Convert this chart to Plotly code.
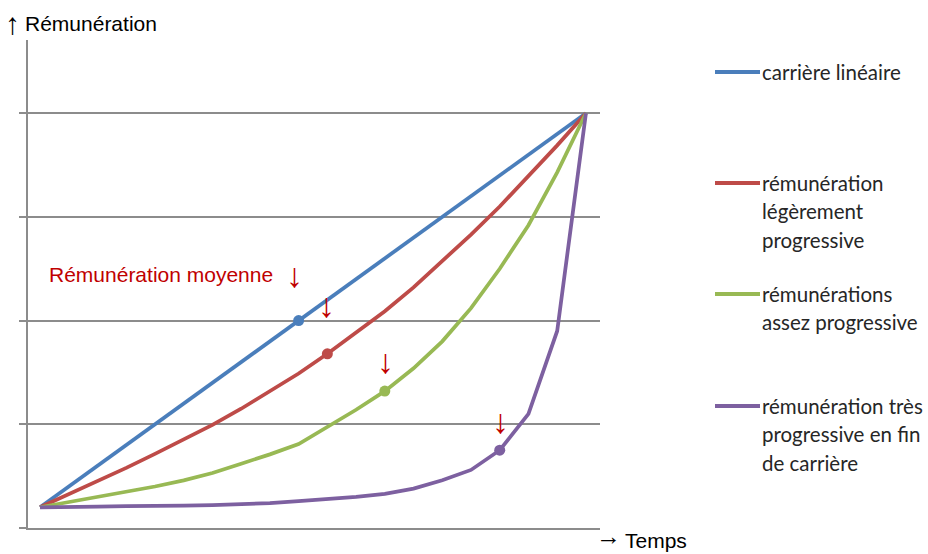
import plotly.graph_objects as go

# Time steps along the career (category positions)
steps = list(range(20))

# Pay level for each profile at each step
lineaire = [0.20, 0.40, 0.60, 0.80, 1.00, 1.20, 1.40, 1.60, 1.80, 2.00,
            2.20, 2.40, 2.60, 2.80, 3.00, 3.20, 3.40, 3.60, 3.80, 4.00]
legere = [0.20, 0.325, 0.45, 0.58, 0.715, 0.855, 0.995, 1.15, 1.315, 1.49,
          1.68, 1.88, 2.09, 2.32, 2.57, 2.83, 3.10, 3.39, 3.69, 4.00]
assez = [0.20, 0.25, 0.30, 0.345, 0.40, 0.46, 0.53, 0.62, 0.71, 0.81,
         0.97, 1.14, 1.32, 1.54, 1.80, 2.12, 2.50, 2.92, 3.43, 4.00]
tres = [0.20, 0.20, 0.205, 0.21, 0.21, 0.215, 0.22, 0.23, 0.24, 0.26,
        0.28, 0.30, 0.33, 0.38, 0.46, 0.56, 0.75, 1.10, 1.90, 4.00]

# Step at which each profile reaches its average pay
moyenne_idx = [9, 10, 12, 16]

series_values = [lineaire, legere, assez, tres]
series_labels = [
    ["carrière linéaire"],
    ["rémunération", "légèrement", "progressive"],
    ["rémunérations", "assez progressive"],
    ["rémunération très", "progressive en fin", "de carrière"],
]
colors = ["#4A7EBB", "#BE4B48", "#98B954", "#7D60A0"]

W, H = 928, 554
L, R, T, B = 28, 600, 40, 528  # plot area in pixels


def px_x(p):
    return (p - L) / (R - L)


def px_y(p):
    return (B - p) / (B - T)


fig = go.Figure()

for vals, col in zip(series_values, colors):
    fig.add_trace(go.Scatter(x=steps, y=vals, mode="lines",
                             line=dict(color=col, width=3.75),
                             hoverinfo="skip", showlegend=False))

# Average-pay markers
for vals, col, k in zip(series_values, colors, moyenne_idx):
    fig.add_trace(go.Scatter(x=[steps[k]], y=[vals[k]], mode="markers",
                             marker=dict(color=col, size=11),
                             hoverinfo="skip", showlegend=False))

red = "#C00000"
sans = "Liberation Sans, Arial"
annotations = []

# Down arrows above each average-pay marker
arrow_shift = [(-4, 46), (-1, 49), (1, 30), (1, 29)]
for vals, k, (dx, dy) in zip(series_values, moyenne_idx, arrow_shift):
    annotations.append(dict(x=steps[k], y=vals[k], xref="x", yref="y",
                            text="↓", showarrow=False, xshift=dx, yshift=dy,
                            font=dict(family=sans, size=34, color=red)))

annotations.append(dict(x=px_x(47), y=px_y(274), xref="paper", yref="paper",
                        text="Rémunération moyenne", showarrow=False,
                        xanchor="left", yanchor="middle",
                        font=dict(family=sans, size=21, color=red)))


def axis_label(arrow, arrow_x, arrow_y, arrow_size, text, text_x, text_y):
    annotations.append(dict(x=px_x(arrow_x), y=px_y(arrow_y), xref="paper",
                            yref="paper", text=arrow, showarrow=False,
                            xanchor="center", yanchor="middle",
                            font=dict(family=sans, size=arrow_size, color="#000000")))
    annotations.append(dict(x=px_x(text_x), y=px_y(text_y), xref="paper",
                            yref="paper", text=text, showarrow=False,
                            xanchor="left", yanchor="middle",
                            font=dict(family=sans, size=21, color="#000000")))


# Axis titles
axis_label("↑", 12.5, 24, 30, "Rémunération", 23, 24)
axis_label("→", 608, 536, 25, "Temps", 623, 540)

# Legend drawn as line samples and text rows
shapes = []
entry_top = [72, 183, 294, 406]
row_gap = 28.3
for lines, col, top in zip(series_labels, colors, entry_top):
    shapes.append(dict(type="line", xref="paper", yref="paper",
                       x0=px_x(715), x1=px_x(760), y0=px_y(top), y1=px_y(top),
                       line=dict(color=col, width=4)))
    for j, txt in enumerate(lines):
        annotations.append(dict(x=px_x(760), y=px_y(top + j * row_gap),
                                xref="paper", yref="paper", text=txt,
                                showarrow=False, xanchor="left", yanchor="middle",
                                font=dict(family="Lato", size=20.5, color="#262626")))

grey = "#8C8C8C"
fig.update_layout(
    width=W, height=H,
    margin=dict(l=L, r=W - R, t=T, b=H - B, pad=0),
    paper_bgcolor="white", plot_bgcolor="white",
    xaxis=dict(range=[-0.42, 19.49], showgrid=False, zeroline=False,
               showline=True, linecolor=grey, linewidth=1.5,
               showticklabels=False, ticks=""),
    yaxis=dict(range=[0, 4.706], tickvals=[0, 1, 2, 3, 4], showticklabels=False,
               ticks="outside", ticklen=7, tickcolor=grey, tickwidth=1.5,
               showgrid=True, gridcolor=grey, gridwidth=1.5, zeroline=False,
               showline=True, linecolor=grey, linewidth=1.5),
    annotations=annotations,
    shapes=shapes,
    showlegend=False,
)

fig.write_html("out.html")
